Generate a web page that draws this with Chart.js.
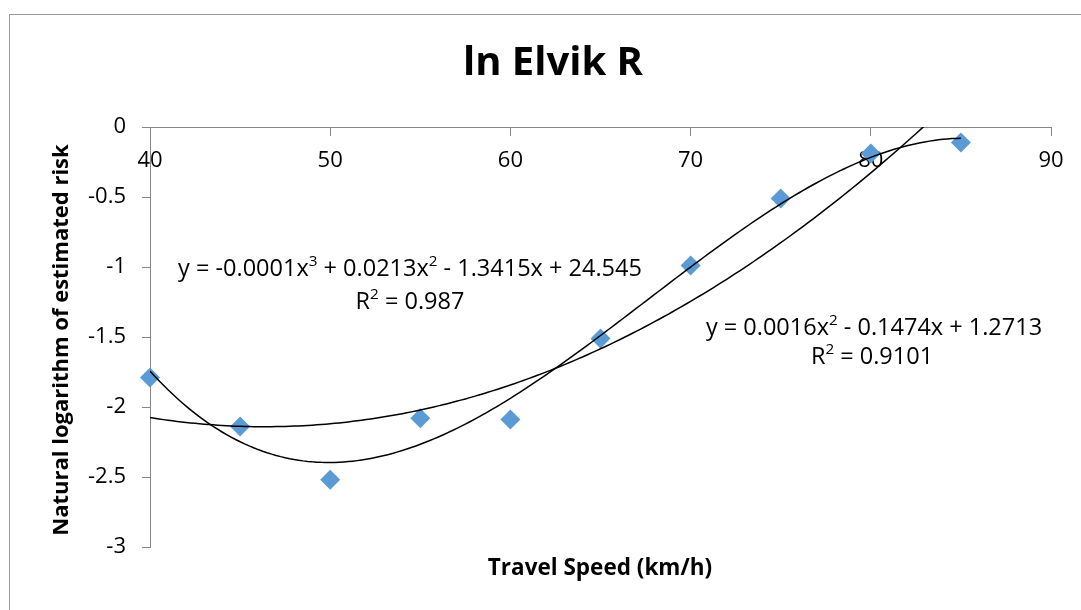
<!DOCTYPE html>
<html>
<head>
<meta charset="utf-8">
<script src="https://cdn.jsdelivr.net/npm/chart.js@4.4.1/dist/chart.umd.min.js"></script>
<style>
  html, body { margin: 0; padding: 0; background: #fff; }
  #wrap { width: 1081px; height: 610px; position: relative; }
</style>
</head>
<body>
<div id="wrap"><canvas id="chart" width="1081" height="610"></canvas></div>
<script>
// ── Data ──────────────────────────────────────
const speeds = [40, 45, 50, 55, 60, 65, 70, 75, 80, 85];
const lnRisk = [-1.79, -2.14, -2.52, -2.08, -2.09, -1.51, -0.99, -0.51, -0.19, -0.11];

const xTicks = [40, 50, 60, 70, 80, 90];
const yTicks = [0, -0.5, -1, -1.5, -2, -2.5, -3];

const chartTitle = 'ln Elvik R';
const xTitle = 'Travel Speed (km/h)';
const yTitle = 'Natural logarithm of estimated risk';

// trendline labels as printed on the chart
const cubicLabel = [['y = -0.0001x', false], ['3', true], [' + 0.0213x', false], ['2', true], [' - 1.3415x + 24.545', false]];
const cubicR2 = [['R', false], ['2', true], [' = 0.987', false]];
const quadLabel = [['y = 0.0016x', false], ['2', true], [' - 0.1474x + 1.2713', false]];
const quadR2 = [['R', false], ['2', true], [' = 0.9101', false]];

const FONT = '"Open Sans", Lato, sans-serif';

// ── Least squares polynomial fit (like the spreadsheet trendline) ──
function polyfit(xs, ys, deg) {
  const mx = xs.reduce((a, b) => a + b, 0) / xs.length;
  const n = deg + 1;
  const A = [];
  for (let i = 0; i < n; i++) {
    A.push(new Array(n + 1).fill(0));
  }
  xs.forEach((x, k) => {
    const u = x - mx;
    for (let i = 0; i < n; i++) {
      for (let j = 0; j < n; j++) A[i][j] += Math.pow(u, i + j);
      A[i][n] += ys[k] * Math.pow(u, i);
    }
  });
  for (let c = 0; c < n; c++) {
    let p = c;
    for (let r = c + 1; r < n; r++) if (Math.abs(A[r][c]) > Math.abs(A[p][c])) p = r;
    [A[c], A[p]] = [A[p], A[c]];
    for (let r = 0; r < n; r++) {
      if (r === c) continue;
      const f = A[r][c] / A[c][c];
      for (let k = c; k <= n; k++) A[r][k] -= f * A[c][k];
    }
  }
  const coef = A.map((row, i) => row[n] / row[i]);
  return x => coef.reduce((s, c, i) => s + c * Math.pow(x - mx, i), 0);
}

function trendPoints(fn) {
  const pts = [];
  const lo = Math.min(...speeds), hi = Math.max(...speeds);
  for (let x = lo; x <= hi + 1e-9; x += 0.25) pts.push({ x, y: fn(x) });
  return pts;
}

const cubicFit = polyfit(speeds, lnRisk, 3);
const quadFit = polyfit(speeds, lnRisk, 2);

// ── Text helpers ──────────────────────────────
function drawRich(ctx, parts, cx, cy, size) {
  const widths = parts.map(([t, sup]) => {
    ctx.font = `${sup ? size * 0.65 : size}px ${FONT}`;
    return ctx.measureText(t).width;
  });
  let x = cx - widths.reduce((a, b) => a + b, 0) / 2;
  ctx.textBaseline = 'middle';
  ctx.textAlign = 'left';
  parts.forEach(([t, sup], i) => {
    ctx.font = `${sup ? size * 0.65 : size}px ${FONT}`;
    ctx.fillText(t, x, sup ? cy - size * 0.3 : cy);
    x += widths[i];
  });
}

const decor = {
  id: 'decor',
  beforeDraw(chart) {
    const ctx = chart.ctx;
    ctx.save();
    ctx.strokeStyle = '#9a9a9a';
    ctx.lineWidth = 1;
    ctx.strokeRect(9.5, 14.5, 1200, 700);
    ctx.restore();
  },
  afterDraw(chart) {
    const ctx = chart.ctx;
    ctx.save();
    ctx.fillStyle = '#000';
    ctx.textAlign = 'center';
    ctx.textBaseline = 'middle';
    ctx.font = `bold 40px ${FONT}`;
    ctx.fillText(chartTitle, 553, 64);

    ctx.font = `bold 22.5px ${FONT}`;
    ctx.fillText(xTitle, 600, 569);

    ctx.font = `bold 22px ${FONT}`;
    ctx.save();
    ctx.translate(62, 340);
    ctx.rotate(-Math.PI / 2);
    ctx.fillText(yTitle, 0, 0);
    ctx.restore();

    drawRich(ctx, cubicLabel, 410, 269, 23.5);
    drawRich(ctx, cubicR2, 410, 302, 23.5);
    drawRich(ctx, quadLabel, 874, 328, 23.5);
    drawRich(ctx, quadR2, 872, 357, 23.5);
    ctx.restore();
  }
};

// ── Chart ─────────────────────────────────────
const axisGrey = '#868686';

new Chart(document.getElementById('chart'), {
  type: 'scatter',
  data: {
    datasets: [
      {
        label: 'ln R',
        data: speeds.map((x, i) => ({ x, y: lnRisk[i] })),
        pointStyle: 'rectRot',
        pointRadius: 10,
        pointHoverRadius: 10,
        backgroundColor: '#5b9bd5',
        borderColor: '#5b9bd5',
        borderWidth: 0,
        clip: false,
        order: 1
      },
      {
        label: 'Poly. (3)',
        data: trendPoints(cubicFit),
        showLine: true,
        pointRadius: 0,
        borderColor: '#000',
        borderWidth: 1.5,
        order: 0
      },
      {
        label: 'Poly. (2)',
        data: trendPoints(quadFit),
        showLine: true,
        pointRadius: 0,
        borderColor: '#000',
        borderWidth: 1.5,
        order: 0
      }
    ]
  },
  options: {
    responsive: false,
    animation: false,
    events: [],
    layout: { padding: { left: 0, top: 127, right: 30, bottom: 63 } },
    plugins: { legend: { display: false }, tooltip: { enabled: false }, title: { display: false } },
    scales: {
      x: {
        type: 'linear',
        min: 40,
        max: 90,
        position: { y: 0 },
        afterBuildTicks: s => { s.ticks = xTicks.map(v => ({ value: v })); },
        ticks: { color: '#000', font: { family: FONT, size: 22 }, padding: 13, maxRotation: 0, callback: v => String(v) },
        grid: { drawOnChartArea: false, drawTicks: true, tickLength: 8, color: axisGrey },
        border: { color: axisGrey, width: 1 }
      },
      y: {
        type: 'linear',
        min: -3,
        max: 0,
        position: 'left',
        afterBuildTicks: s => { s.ticks = yTicks.map(v => ({ value: v })); },
        afterFit: s => { s.width = 150; },
        ticks: { color: '#000', font: { family: FONT, size: 22 }, padding: 16, callback: v => String(v) },
        grid: { drawOnChartArea: false, drawTicks: true, tickLength: 8, color: axisGrey },
        border: { color: axisGrey, width: 1 }
      }
    }
  },
  plugins: [decor]
});
</script>
</body>
</html>
